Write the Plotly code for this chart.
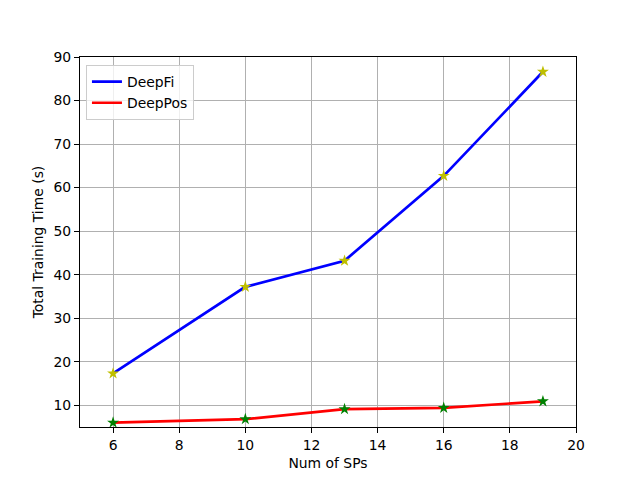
import plotly.graph_objects as go

sps = [6, 10, 13, 16, 19]
deepfi = [17.3, 37.2, 43.2, 62.7, 86.6]
deeppos = [6.0, 6.8, 9.1, 9.4, 10.9]
xticks = [6, 8, 10, 12, 14, 16, 18, 20]
yticks = [10, 20, 30, 40, 50, 60, 70, 80, 90]

fig = go.Figure()
fig.add_trace(go.Scatter(x=sps, y=deepfi, mode="lines", name="DeepFi",
                         line=dict(color="#0000ff", width=2.7)))
fig.add_trace(go.Scatter(x=sps, y=deeppos, mode="lines", name="DeepPos",
                         line=dict(color="#ff0000", width=2.7)))
fig.add_trace(go.Scatter(x=sps, y=deepfi, mode="markers", showlegend=False,
                         marker=dict(symbol="star", color="#bfbf00", size=9,
                                     line=dict(width=0))))
fig.add_trace(go.Scatter(x=sps, y=deeppos, mode="markers", showlegend=False,
                         marker=dict(symbol="star", color="#008000", size=9,
                                     line=dict(width=0))))

axis_common = dict(showline=True, linecolor="black", linewidth=1, mirror=True,
                   ticks="outside", ticklen=5, tickwidth=1, tickcolor="black",
                   showgrid=True, gridcolor="#b0b0b0", gridwidth=1, zeroline=False,
                   tickfont=dict(family="DejaVu Sans", size=13.9, color="black"),
                   title_font=dict(family="DejaVu Sans", size=13.9, color="black"))

fig.update_xaxes(range=[5, 20], tickvals=xticks, title_text="Num of SPs",
                 title_standoff=6, **axis_common)
fig.update_yaxes(range=[5, 90], tickvals=yticks, title_text="Total Training Time (s)",
                 title_standoff=6, **axis_common)

fig.update_layout(
    width=640, height=480,
    margin=dict(l=72, r=72, t=49, b=61),
    paper_bgcolor="white", plot_bgcolor="white",
    font=dict(family="DejaVu Sans", size=13.9, color="black"),
    legend=dict(x=0.012, y=0.978, xanchor="left", yanchor="top",
                bgcolor="rgba(255,255,255,0.8)", bordercolor="#cccccc", borderwidth=1,
                font=dict(family="DejaVu Sans", size=13.9, color="black"),
                itemwidth=30, tracegroupgap=0),
    showlegend=True,
)

fig.write_html("out.html")
